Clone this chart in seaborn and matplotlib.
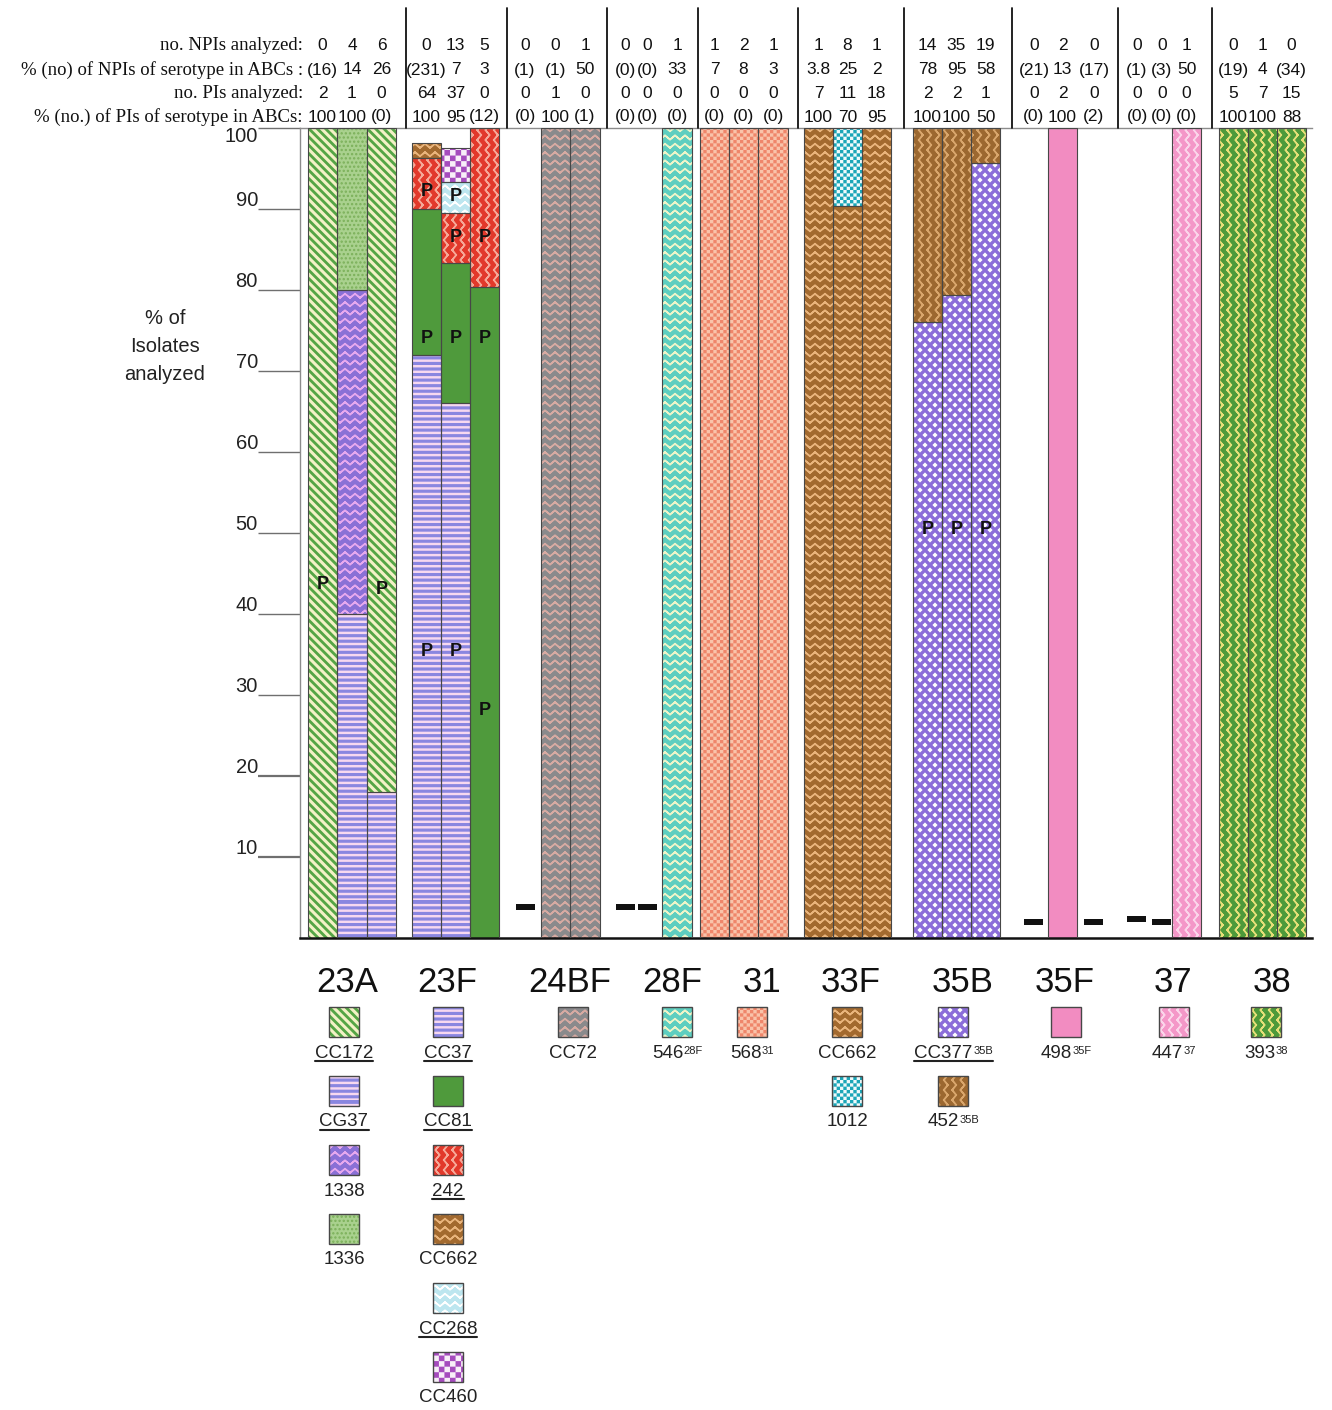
import warnings
warnings.filterwarnings("ignore")
import numpy as np
import pandas as pd
import matplotlib
matplotlib.use("Agg")
import matplotlib.pyplot as plt
import matplotlib.hatch as mhatch
import matplotlib.transforms as mtrans
from matplotlib.path import Path
from matplotlib.patches import Rectangle
import seaborn as sns

# ---------------------------------------------------------------- data
SEROTYPES = ["23A", "23F", "24BF", "28F", "31", "33F", "35B", "35F", "37", "38"]

ROW_LABELS = ["no. NPIs analyzed:",
              "% (no) of NPIs of serotype in ABCs :",
              "no. PIs analyzed:",
              "% (no.) of PIs of serotype in ABCs:"]
NPI_ANALYZED = [["0", "4", "6"], ["0", "13", "5"], ["0", "0", "1"], ["0", "0", "1"], ["1", "2", "1"],
                ["1", "8", "1"], ["14", "35", "19"], ["0", "2", "0"], ["0", "0", "1"], ["0", "1", "0"]]
NPI_PCT_ABCS = [["(16)", "14", "26"], ["(231)", "7", "3"], ["(1)", "(1)", "50"], ["(0)", "(0)", "33"],
                ["7", "8", "3"], ["3.8", "25", "2"], ["78", "95", "58"], ["(21)", "13", "(17)"],
                ["(1)", "(3)", "50"], ["(19)", "4", "(34)"]]
PI_ANALYZED = [["2", "1", "0"], ["64", "37", "0"], ["0", "1", "0"], ["0", "0", "0"], ["0", "0", "0"],
               ["7", "11", "18"], ["2", "2", "1"], ["0", "2", "0"], ["0", "0", "0"], ["5", "7", "15"]]
PI_PCT_ABCS = [["100", "100", "(0)"], ["100", "95", "(12)"], ["(0)", "100", "(1)"], ["(0)", "(0)", "(0)"],
               ["(0)", "(0)", "(0)"], ["100", "70", "95"], ["100", "100", "50"], ["(0)", "100", "(2)"],
               ["(0)", "(0)", "(0)"], ["100", "100", "88"]]

# stacked composition, % of isolates, listed bottom -> top ; [] = no isolates
STACKS = {
    "23A": [[("CC172", 100)],
            [("CG37", 40), ("1338", 40), ("1336", 20)],
            [("CG37", 18), ("CC172", 82)]],
    "23F": [[("CC37", 72), ("CC81", 18), ("242", 6.3), ("CC662", 1.8)],
            [("CC37", 66), ("CC81", 17.3), ("242", 6.2), ("CC268", 3.8), ("CC460", 4.2)],
            [("CC81", 80.4), ("242", 19.6)]],
    "24BF": [[], [("CC72", 100)], [("CC72", 100)]],
    "28F": [[], [], [("546", 100)]],
    "31": [[("568", 100)], [("568", 100)], [("568", 100)]],
    "33F": [[("CC662", 100)], [("CC662", 90.4), ("1012", 9.6)], [("CC662", 100)]],
    "35B": [[("CC377", 76), ("452", 24)], [("CC377", 79.4), ("452", 20.6)], [("CC377", 95.7), ("452", 4.3)]],
    "35F": [[], [("498", 100)], []],
    "37": [[], [], [("447", 100)]],
    "38": [[("393", 100)], [("393", 100)], [("393", 100)]],
}
# level of the "-" mark drawn where no isolate was available
NONE_MARK = {("24BF", 0): 3.8, ("28F", 0): 3.8, ("28F", 1): 3.8,
             ("35F", 0): 2.0, ("35F", 2): 2.0, ("37", 0): 2.3, ("37", 1): 2.0}
# "P" annotations: (serotype, bar, % level)
P_MARKS = [("23A", 0, 43.6), ("23A", 2, 43.0),
           ("23F", 0, 35.4), ("23F", 1, 35.4), ("23F", 2, 28.1),
           ("23F", 0, 74.0), ("23F", 1, 74.0), ("23F", 2, 74.0),
           ("23F", 0, 92.2), ("23F", 1, 91.5), ("23F", 1, 86.5), ("23F", 2, 86.5),
           ("35B", 0, 50.4), ("35B", 1, 50.4), ("35B", 2, 50.4)]
# legend: (style key, label, superscript, underlined)
LEGEND = {
    "23A": [("CC172", "CC172", "", True), ("CG37", "CG37", "", True),
            ("1338", "1338", "", False), ("1336", "1336", "", False)],
    "23F": [("CC37", "CC37", "", True), ("CC81", "CC81", "", True), ("242", "242", "", True),
            ("CC662", "CC662", "", False), ("CC268", "CC268", "", True), ("CC460", "CC460", "", False)],
    "24BF": [("CC72", "CC72", "", False)],
    "28F": [("546", "546", "28F", False)],
    "31": [("568", "568", "31", False)],
    "33F": [("CC662", "CC662", "", False), ("1012", "1012", "", False)],
    "35B": [("CC377", "CC377", "35B", True), ("452", "452", "35B", False)],
    "35F": [("498", "498", "35F", False)],
    "37": [("447", "447", "37", False)],
    "38": [("393", "393", "38", False)],
}
YTICKS = [10, 20, 30, 40, 50, 60, 70, 80, 90, 100]

# ---------------------------------------------------------------- layout / style
W, H = 1332, 1410
BAR_X = [[322.5, 352, 381.5], [426.5, 455.5, 484.5], [525, 555.5, 585], [625, 647.5, 677],
         [714.5, 743.5, 773], [818.5, 847.5, 876.5], [927.5, 956.5, 985.5], [1034, 1062.5, 1094],
         [1137, 1162, 1186.5], [1233.5, 1262.5, 1291.5]]
BAR_W = 29.3
DASH_W = 19
GROUP_LABEL_X = [347, 447, 570, 672, 762, 851, 963, 1065, 1173, 1272]
LEGEND_X = [344, 448, 573, 677, 752, 847, 953, 1066, 1174, 1266]
HEADER_Y = [46, 70, 94, 117]

STYLE = {
    "CC172": dict(face="#55a545", hatch="ss", hc="#f3f1c6"),
    "CG37": dict(face="#8a86e0", hatch="hhh", hc="#f7d8f0"),
    "CC37": dict(face="#8a86e0", hatch="hhh", hc="#f7d8f0"),
    "1338": dict(face="#8a70d6", hatch="zz", hc="#e6a8ee"),
    "1336": dict(face="#a9d18e", hatch="....", hc="#7bb05a"),
    "CC81": dict(face="#4f9a3c", hatch=None, hc=None),
    "242": dict(face="#e2392b", hatch="vv", hc="#f6a898"),
    "CC662": dict(face="#a36a2f", hatch="zz", hc="#e9b47c"),
    "CC268": dict(face="#bde6ef", hatch="zz", hc="#ffffff"),
    "CC460": dict(face="#f8eef8", hatch="kkk", hc="#a54bbd"),
    "CC72": dict(face="#8a8a8c", hatch="zz", hc="#d6aaa2"),
    "546": dict(face="#5ecec0", hatch="zz", hc="#eef4c8"),
    "568": dict(face="#ef866a", hatch="kkkkk", hc="#f9c3aa"),
    "1012": dict(face="#f0fafb", hatch="kkkkk", hc="#1ba6b8"),
    "CC377": dict(face="#8b6dd9", hatch="dd", hc="#ffffff"),
    "452": dict(face="#9c6830", hatch="vv", hc="#d9a66c"),
    "498": dict(face="#f28cc1", hatch=None, hc=None),
    "447": dict(face="#f497c8", hatch="vv", hc="#fbd5ea"),
    "393": dict(face="#4e9a3a", hatch="vv", hc="#e6df78"),
}
OUTLINE = "#474747"

# ---------------------------------------------------------------- custom hatches
MOVE, LINE, CLOSE = Path.MOVETO, Path.LINETO, Path.CLOSEPOLY


class _Zig(mhatch.HatchPatternBase):
    char = "z"
    vertical = False

    def __init__(self, hatch, density):
        self.rows = int(hatch.count(self.char) * density)
        self.teeth = max(1, int(round(self.rows * 0.8)))
        npts = 2 * self.teeth + 1
        self.per_row = 2 * npts - 1
        self.num_vertices = self.rows * self.per_row if self.rows else 0

    def set_vertices_and_codes(self, vertices, codes):
        n, m = self.rows, self.teeth
        xs = np.linspace(0.0, 1.0, 2 * m + 1)
        amp = 0.25 / n
        offs = np.where(np.arange(2 * m + 1) % 2 == 0, -amp, amp)
        fx = np.concatenate([xs, xs[-2::-1]])
        fo = np.concatenate([offs, offs[-2::-1]])
        k = 0
        for r in range(n):
            c = (r + 0.5) / n
            if self.vertical:
                vertices[k:k + self.per_row, 0] = c + fo
                vertices[k:k + self.per_row, 1] = fx
            else:
                vertices[k:k + self.per_row, 0] = fx
                vertices[k:k + self.per_row, 1] = c + fo
            codes[k] = MOVE
            codes[k + 1:k + self.per_row] = LINE
            k += self.per_row


class _VZig(_Zig):
    char = "v"
    vertical = True


class _HBands(mhatch.HatchPatternBase):
    def __init__(self, hatch, density):
        self.n = int(hatch.count("h") * density)
        self.num_vertices = 5 * self.n

    def set_vertices_and_codes(self, vertices, codes):
        n = self.n
        w = 0.16 / n
        for j in range(n):
            y = j / n
            vertices[5 * j:5 * j + 5] = [(0, y), (1, y), (1, y + w), (0, y + w), (0, y)]
            codes[5 * j:5 * j + 5] = [MOVE, LINE, LINE, LINE, CLOSE]


class _DBands(mhatch.HatchPatternBase):
    def __init__(self, hatch, density):
        self.n = int(hatch.count("s") * density)
        self.ks = list(range(-1, 2 * self.n + 2)) if self.n else []
        self.num_vertices = 5 * len(self.ks)

    def set_vertices_and_codes(self, vertices, codes):
        n = self.n
        w = 0.26 / n
        for i, k in enumerate(self.ks):
            c = k / n
            vertices[5 * i:5 * i + 5] = [(-0.1, c + 0.1), (1.1, c - 1.1), (1.1, c - 1.1 + w),
                                         (-0.1, c + 0.1 + w), (-0.1, c + 0.1)]
            codes[5 * i:5 * i + 5] = [MOVE, LINE, LINE, LINE, CLOSE]


class _Checker(mhatch.HatchPatternBase):
    def __init__(self, hatch, density):
        n = int(hatch.count("k") * density)
        n += n % 2
        self.n = n
        self.cells = [(i, j) for i in range(n) for j in range(n) if (i + j) % 2 == 0] if n else []
        self.num_vertices = 5 * len(self.cells)

    def set_vertices_and_codes(self, vertices, codes):
        s = 1.0 / self.n
        e = 0.0075
        for c, (i, j) in enumerate(self.cells):
            x0, y0 = i * s + e, j * s + e
            x1, y1 = (i + 1) * s - e, (j + 1) * s - e
            vertices[5 * c:5 * c + 5] = [(x0, y0), (x1, y0), (x1, y1), (x0, y1), (x0, y0)]
            codes[5 * c:5 * c + 5] = [MOVE, LINE, LINE, LINE, CLOSE]


class _Diamonds(mhatch.HatchPatternBase):
    def __init__(self, hatch, density):
        n = int(round(hatch.count("d") * density * 5 / 6))
        self.n = n
        pts = []
        if n:
            pts += [(i / n, j / n) for i in range(n + 1) for j in range(n + 1)]
            pts += [((i + .5) / n, (j + .5) / n) for i in range(n) for j in range(n)]
        self.pts = pts
        self.num_vertices = 5 * len(pts)

    def set_vertices_and_codes(self, vertices, codes):
        r = 0.15 / self.n
        for c, (x, y) in enumerate(self.pts):
            vertices[5 * c:5 * c + 5] = [(x, y - r), (x + r, y), (x, y + r), (x - r, y), (x, y - r)]
            codes[5 * c:5 * c + 5] = [MOVE, LINE, LINE, LINE, CLOSE]


mhatch._hatch_types.extend([_Zig, _VZig, _HBands, _DBands, _Checker, _Diamonds])
mhatch._validate_hatch_pattern = lambda hatch: None

# ---------------------------------------------------------------- figure
sns.set_theme(style="white")
plt.rcParams["font.family"] = ["Liberation Sans", "DejaVu Sans"]
plt.rcParams["hatch.linewidth"] = 1.1

fig = plt.figure(figsize=(W / 100, H / 100), dpi=100)
L, T, R, B = 300, 128, 1312, 938
ax = fig.add_axes([L / W, 1 - B / H, (R - L) / W, (B - T) / H])
ov = fig.add_axes([0, 0, 1, 1], zorder=5)
ov.set_xlim(0, W)
ov.set_ylim(H, 0)
ov.axis("off")
ov.patch.set_alpha(0)


def seg(x, bottom, height, width, st):
    kw = dict(x=[x], y=[height], native_scale=True, orient="x", errorbar=None, ax=ax,
              width=width, saturation=1, bottom=bottom)
    if st["hatch"]:
        sns.barplot(**kw, facecolor=st["face"], edgecolor=st["hc"], hatch=st["hatch"],
                    linewidth=0, zorder=2)
    else:
        sns.barplot(**kw, facecolor=st["face"], edgecolor="none", linewidth=0, zorder=2)
    sns.barplot(**kw, facecolor="none", edgecolor=OUTLINE, linewidth=0.8, zorder=3)


for g, sero in enumerate(SEROTYPES):
    for b, stack in enumerate(STACKS[sero]):
        x = BAR_X[g][b]
        heights = np.array([h for _, h in stack], dtype=float)
        bottoms = np.concatenate([[0.0], np.cumsum(heights)[:-1]])
        for (strain, h), bot in zip(stack, bottoms):
            seg(x, bot, h, BAR_W, STYLE[strain])
        if (sero, b) in NONE_MARK:
            lvl = NONE_MARK[(sero, b)]
            sns.barplot(x=[x], y=[0.75], bottom=lvl - 0.375, native_scale=True, orient="x",
                        errorbar=None, ax=ax, width=DASH_W, saturation=1,
                        facecolor="#111111", edgecolor="none", linewidth=0, zorder=4)

for sero, b, lvl in P_MARKS:
    g = SEROTYPES.index(sero)
    ax.text(BAR_X[g][b], lvl, "P", ha="center", va="center", fontsize=13,
            fontweight="bold", color="#111111", zorder=6)

ax.set_xlim(L, R)
ax.set_ylim(0, 100)
ax.set_xticks([])
ax.set_yticks(YTICKS)
ax.set_yticklabels([])
ax.tick_params(axis="y", left=True, length=30, width=1.0, color="#6f6f6f", direction="out")
for tk, v in zip(ax.yaxis.get_major_ticks(), YTICKS):
    if v <= 20:
        tk.tick1line.set_color("#111111")
        tk.tick1line.set_markeredgewidth(1.6)
ax.set_xlabel("")
ax.set_ylabel("")
for sp in ["top", "left"]:
    ax.spines[sp].set_color("#8c8c8c")
    ax.spines[sp].set_linewidth(1.0)
ax.spines["right"].set_visible(False)
ax.spines["bottom"].set_color("#111111")
ax.spines["bottom"].set_linewidth(1.8)

ylab_tr = mtrans.blended_transform_factory(ax.transAxes, ax.transData)
for v in YTICKS:
    yy = v + 1.0 if v < 100 else 98.9
    ax.text((258 - L) / (R - L), yy, str(v), transform=ylab_tr, ha="right", va="center",
            fontsize=14.5, color="#222222", clip_on=False)

ov.text(165, 347, "% of\nIsolates\nanalyzed", ha="center", va="center", fontsize=14.5,
        linespacing=1.6, color="#222222")

# header table
for r, (lab, rows) in enumerate(zip(ROW_LABELS, [NPI_ANALYZED, NPI_PCT_ABCS, PI_ANALYZED, PI_PCT_ABCS])):
    ov.text(303, HEADER_Y[r], lab, ha="right", va="center", fontsize=13.5,
            family=["Liberation Serif", "DejaVu Serif"], color="#111111")
    for g in range(len(SEROTYPES)):
        for b in range(3):
            ov.text(BAR_X[g][b], HEADER_Y[r], rows[g][b], ha="center", va="center",
                    fontsize=12.5, color="#111111")
for g in range(len(SEROTYPES) - 1):
    sx = (BAR_X[g][2] + BAR_X[g + 1][0]) / 2 + 2
    ov.plot([sx, sx], [8, T], color="#111111", lw=1.3)

# group labels + legends
underlines = []
for g, sero in enumerate(SEROTYPES):
    ov.text(GROUP_LABEL_X[g], 982, sero, ha="center", va="center", fontsize=25, color="#111111")
    cx = LEGEND_X[g]
    for i, (key, lab, sup, und) in enumerate(LEGEND[sero]):
        top = 1007 + 69 * i
        st = STYLE[key]
        if st["hatch"]:
            ov.add_patch(Rectangle((cx - 15, top), 30, 30, facecolor=st["face"], edgecolor=st["hc"],
                                   hatch=st["hatch"], linewidth=0))
        else:
            ov.add_patch(Rectangle((cx - 15, top), 30, 30, facecolor=st["face"], linewidth=0))
        ov.add_patch(Rectangle((cx - 15, top), 30, 30, facecolor="none", edgecolor=OUTLINE, linewidth=1.0))
        shift = -len(sup) * 3.2 if sup else 0
        t = ov.text(cx + shift, top + 46, lab, ha="center", va="center", fontsize=13.5, color="#222222")
        arts = [t]
        if sup:
            s = ov.annotate(sup, xy=(1.0, 0.92), xycoords=t, xytext=(0.5, 0), textcoords="offset points",
                            ha="left", va="top", fontsize=8, color="#222222")
            arts.append(s)
        if und:
            underlines.append(arts)

fig.canvas.draw()
rend = fig.canvas.get_renderer()
for arts in underlines:
    bbs = [a.get_window_extent(renderer=rend) for a in arts]
    x0 = min(bb.x0 for bb in bbs)
    x1 = max(bb.x1 for bb in bbs)
    y0 = bbs[0].y0
    yy = H - y0 - 1
    ov.plot([x0, x1], [yy, yy], color="#222222", lw=1.5)

fig.savefig("out.png", dpi=100)
